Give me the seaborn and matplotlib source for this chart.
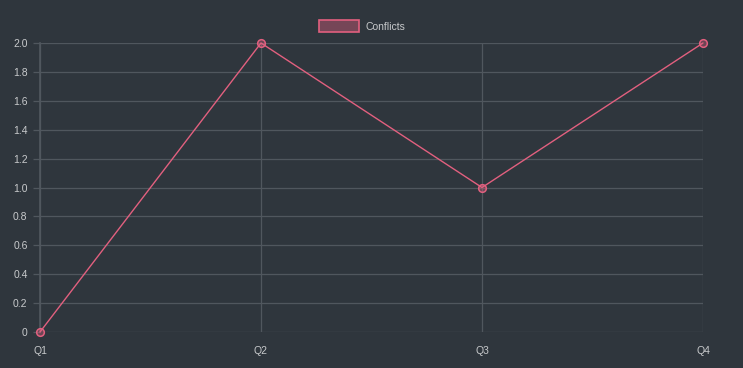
import pandas as pd
import matplotlib.pyplot as plt
import matplotlib.patches as mpatches
from matplotlib.ticker import FuncFormatter
import seaborn as sns

quarters = ["Q1", "Q2", "Q3", "Q4"]
conflicts = [0, 2, 1, 2]

bg = "#2f363d"
grid = "#50575e"
line = "#e2607f"
text = "#c8cacc"

sns.set_theme(style="dark")
plt.rcParams["font.family"] = ["Liberation Sans", "DejaVu Sans"]

df = pd.DataFrame({"quarter": quarters, "conflicts": conflicts})

fig = plt.figure(figsize=(7.43, 3.68), dpi=100, facecolor=bg)
ax = fig.add_axes([40 / 743, 1 - 332 / 368, 663 / 743, 289 / 368])
ax.set_facecolor(bg)

sns.lineplot(x="quarter", y="conflicts", data=df, ax=ax, color=line, linewidth=1.0,
             marker="o", markersize=5.5, markerfacecolor=(0.886, 0.376, 0.498, 0.35),
             markeredgecolor=line, markeredgewidth=1.1, clip_on=False, zorder=3)

ax.set_xlim(0, 3)
ax.set_ylim(0, 2)
ax.set_yticks([i / 5 for i in range(11)])
ax.yaxis.set_major_formatter(FuncFormatter(lambda v, p: "0" if v == 0 else f"{v:.1f}"))
ax.grid(True, color=grid, linewidth=0.9)
ax.tick_params(axis="both", colors=text, labelsize=7.5, length=5, width=0.9,
               color=grid, pad=4, left=True, bottom=True)
ax.tick_params(axis="x", length=0, pad=10)
for s in ax.spines.values():
    s.set_visible(False)
ax.spines["left"].set_visible(True)
ax.spines["left"].set_color(grid)
ax.set_xlabel("")
ax.set_ylabel("")

handle = mpatches.Patch(facecolor=(0.886, 0.376, 0.498, 0.4), edgecolor=line, linewidth=1.2)
fig.legend([handle], ["Conflicts"], loc="center", bbox_to_anchor=(362 / 743, 1 - 26 / 368),
           frameon=False, labelcolor=text, fontsize=7.5, handlelength=3.9, handleheight=1.25,
           handletextpad=0.6)

fig.savefig("out.png", dpi=100, facecolor=bg)
